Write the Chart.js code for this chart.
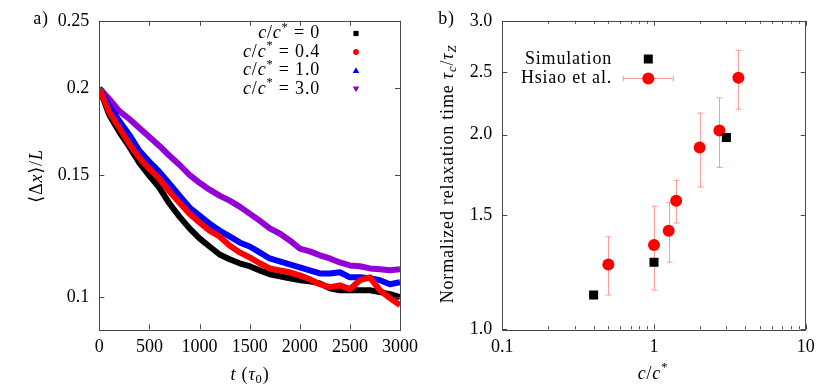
<!DOCTYPE html>
<html>
<head>
<meta charset="utf-8">
<script src="https://cdn.jsdelivr.net/npm/chart.js@4.4.1/dist/chart.umd.min.js"></script>
<style>
  html, body { margin: 0; padding: 0; background: #fff; }
  #wrap { position: relative; width: 830px; height: 388px; }
  #panel-a { position: absolute; left: 0; top: 0; }
  #panel-b { position: absolute; left: 425px; top: 0; }
</style>
</head>
<body>
<div id="wrap">
  <canvas id="panel-a" width="425" height="388"></canvas>
  <canvas id="panel-b" width="405" height="388"></canvas>
</div>
<script>
/* ---- panel a: end-to-end extension vs time ---- */
const timeSteps = [0, 100, 200, 300, 400, 500, 600, 700, 800, 900, 1000, 1100, 1200, 1300, 1400, 1500,
  1600, 1700, 1800, 1900, 2000, 2100, 2200, 2300, 2400, 2500, 2600, 2700, 2800, 2900, 3000];

const extC0 = [0.2, 0.1830, 0.1730, 0.1647, 0.1562, 0.1496, 0.1438, 0.1365, 0.1307, 0.1257, 0.1216,
  0.1184, 0.1153, 0.1135, 0.1120, 0.1109, 0.1094, 0.1080, 0.1073, 0.1066, 0.1059, 0.1055, 0.1048,
  0.1031, 0.1024, 0.1024, 0.1024, 0.1024, 0.1018, 0.1011, 0.1001];
const extC04 = [0.2, 0.1848, 0.1753, 0.1663, 0.1588, 0.1531, 0.1482, 0.1420, 0.1369, 0.1320, 0.1282,
  0.1248, 0.1224, 0.1188, 0.1161, 0.1142, 0.1120, 0.1101, 0.1094, 0.1087, 0.1076, 0.1062, 0.1045,
  0.1035, 0.1041, 0.1028, 0.1059, 0.1069, 0.1024, 0.0998, 0.0975];
const extC10 = [0.2, 0.1885, 0.1794, 0.1713, 0.1625, 0.1567, 0.1516, 0.1458, 0.1401, 0.1347, 0.1312,
  0.1277, 0.1248, 0.1224, 0.1200, 0.1184, 0.1161, 0.1138, 0.1127, 0.1116, 0.1105, 0.1094, 0.1083,
  0.1083, 0.1087, 0.1069, 0.1069, 0.1066, 0.1059, 0.1045, 0.1052];
const extC30 = [0.2, 0.1929, 0.1854, 0.1806, 0.1753, 0.1702, 0.1652, 0.1599, 0.1552, 0.1501, 0.1462,
  0.1429, 0.1401, 0.1378, 0.1351, 0.1320, 0.1290, 0.1257, 0.1236, 0.1208, 0.1176, 0.1165, 0.1150,
  0.1138, 0.1123, 0.1112, 0.1109, 0.1101, 0.1098, 0.1094, 0.1098];

const concLabels = ['0', '0.4', '1.0', '3.0'];
const leftYTicks = [0.1, 0.15, 0.2, 0.25];

/* ---- panel b: relaxation time vs concentration ---- */
const simConc = [0.4, 1.0, 3.0];
const simTau = [1.13, 1.27, 1.98];
const expConc = [0.5, 1.0, 1.25, 1.4, 2.0, 2.7, 3.6];
const expTau = [1.26, 1.35, 1.42, 1.58, 1.91, 2.03, 2.45];
const expLow = [1.13, 1.15, 1.27, 1.46, 1.66, 1.78, 2.19];
const expHigh = [1.39, 1.55, 1.57, 1.70, 2.16, 2.28, 2.70];

const rightYTicks = [1.0, 1.5, 2.0, 2.5, 3.0];
const rightXTicks = [0.1, 0.2, 0.3, 0.4, 0.5, 0.6, 0.7, 0.8, 0.9, 1, 2, 3, 4, 5, 6, 7, 8, 9, 10];
const rightXLabels = [0.1, 1, 10];

const SERIF = '"Liberation Serif", "DejaVu Serif", serif';
const FS = 18;
const SPACING = '0.8px';

// small helper for mixed italic / sub / sup text
function P(t, it, sh) { return { t, it: !!it, sh }; }

function fontFor(p, size) {
  const s = p.sh ? size * 0.7 : size;
  return (p.it ? 'italic ' : '') + s + 'px ' + SERIF;
}

function drawRich(ctx, parts, x, y, size, align) {
  ctx.save();
  ctx.textBaseline = 'middle';
  ctx.textAlign = 'left';
  ctx.fillStyle = '#000';
  ctx.letterSpacing = SPACING;
  let w = 0;
  parts.forEach(p => { ctx.font = fontFor(p, size); w += ctx.measureText(p.t).width; });
  let cx = align === 'right' ? x - w : align === 'center' ? x - w / 2 : x;
  parts.forEach(p => {
    ctx.font = fontFor(p, size);
    const dy = p.sh === 'sup' ? -size * 0.33 : p.sh === 'sub' ? size * 0.25 : 0;
    ctx.fillText(p.t, cx, y + dy);
    cx += ctx.measureText(p.t).width;
  });
  ctx.restore();
}

function drawRotated(ctx, parts, x, y, size) {
  ctx.save();
  ctx.translate(x, y);
  ctx.rotate(-Math.PI / 2);
  drawRich(ctx, parts, 0, 0, size, 'center');
  ctx.restore();
}

// gnuplot-like frame with inward ticks on all four sides
const framePlugin = {
  id: 'frame',
  afterDraw(chart) {
    const { ctx, chartArea: a, scales } = chart;
    ctx.save();
    ctx.strokeStyle = '#4a4a4a';
    ctx.lineWidth = 1;
    ctx.beginPath();
    scales.x.ticks.forEach(tk => {
      const px = Math.round(scales.x.getPixelForValue(tk.value)) + 0.5;
      const len = tk.label === '' ? 3 : 5;
      ctx.moveTo(px, a.bottom); ctx.lineTo(px, a.bottom - len);
      ctx.moveTo(px, a.top); ctx.lineTo(px, a.top + len);
    });
    scales.y.ticks.forEach(tk => {
      const py = Math.round(scales.y.getPixelForValue(tk.value)) + 0.5;
      const len = tk.label === '' ? 3 : 5;
      ctx.moveTo(a.left, py); ctx.lineTo(a.left + len, py);
      ctx.moveTo(a.right, py); ctx.lineTo(a.right - len, py);
    });
    ctx.stroke();
    ctx.strokeRect(Math.round(a.left) + 0.5, Math.round(a.top) + 0.5,
      Math.round(a.right - a.left), Math.round(a.bottom - a.top));
    ctx.restore();
  }
};

function axisText(size) {
  return { family: SERIF, size: size };
}

/* ---------------- panel a ---------------- */
const seriesA = [
  { data: extC0, color: '#000000', marker: 'square' },
  { data: extC04, color: '#ff0000', marker: 'circle' },
  { data: extC10, color: '#0000ff', marker: 'triangle' },
  { data: extC30, color: '#9400d3', marker: 'invtriangle' }
];
const drawOrder = [1, 0, 2, 3]; // red on top, violet underneath

function drawMarker(ctx, kind, x, y, color) {
  ctx.fillStyle = color;
  ctx.beginPath();
  if (kind === 'square') ctx.rect(x - 2.6, y - 2.6, 5.2, 5.2);
  else if (kind === 'circle') ctx.arc(x, y, 2.9, 0, Math.PI * 2);
  else if (kind === 'triangle') { ctx.moveTo(x, y - 3.3); ctx.lineTo(x - 3.3, y + 2.5); ctx.lineTo(x + 3.3, y + 2.5); }
  else { ctx.moveTo(x, y + 3.3); ctx.lineTo(x - 3.3, y - 2.5); ctx.lineTo(x + 3.3, y - 2.5); }
  ctx.closePath();
  ctx.fill();
}

const panelAText = {
  id: 'panelAText',
  afterDraw(chart) {
    const ctx = chart.ctx;
    drawRich(ctx, [P('a)')], 41, 19, FS, 'center');
    drawRotated(ctx, [P('\u27E8'), P('\u0394'), P('x', 1), P('\u27E9'), P('/'), P('L', 1)], 37, 176, FS);
    drawRich(ctx, [P('t', 1), P(' ('), P('\u03C4', 1), P('0', 0, 'sub'), P(')')], 250, 375, FS, 'center');
    const rows = [33.5, 52, 70.5, 89];
    seriesA.forEach((s, i) => {
      drawRich(ctx, [P('c', 1), P('/'), P('c', 1), P('*', 0, 'sup'), P(' = ' + concLabels[i])],
        320, rows[i], FS, 'right');
      drawMarker(ctx, s.marker, 356, rows[i], s.color);
    });
  }
};

new Chart(document.getElementById('panel-a'), {
  type: 'scatter',
  data: {
    datasets: seriesA.map((s, i) => ({
      label: 'c/c* = ' + concLabels[i],
      data: timeSteps.map((t, k) => ({ x: t, y: s.data[k] })),
      showLine: true,
      borderColor: s.color,
      backgroundColor: s.color,
      borderWidth: 6,
      borderJoinStyle: 'round',
      pointRadius: 0,
      order: drawOrder[i]
    }))
  },
  options: {
    responsive: false,
    animation: false,
    layout: { padding: { top: 19, right: 22.3, left: 0, bottom: 0 } },
    plugins: { legend: { display: false }, tooltip: { enabled: false } },
    scales: {
      x: {
        type: 'linear', min: 0, max: 3000,
        ticks: {
          stepSize: 500, callback: v => String(v),
          font: axisText(FS), color: '#000', padding: 7, maxRotation: 0, autoSkip: false
        },
        grid: { display: false, drawTicks: false },
        border: { display: false },
        afterFit: s => { s.height = 388 - 329.3; }
      },
      y: {
        type: 'logarithmic', min: 0.09, max: 0.25,
        afterBuildTicks: s => { s.ticks = leftYTicks.map(v => ({ value: v })); },
        ticks: { callback: v => String(v), font: axisText(FS), color: '#000', padding: 10 },
        grid: { display: false, drawTicks: false },
        border: { display: false },
        afterFit: s => { s.width = 99.3; }
      }
    }
  },
  plugins: [framePlugin, panelAText]
});

/* ---------------- panel b ---------------- */
const errColor = 'rgba(255, 60, 60, 0.5)';

function errBar(ctx, x, yLo, yHi) {
  ctx.moveTo(x, yLo); ctx.lineTo(x, yHi);
  ctx.moveTo(x - 3, yLo); ctx.lineTo(x + 3, yLo);
  ctx.moveTo(x - 3, yHi); ctx.lineTo(x + 3, yHi);
}

const errorBars = {
  id: 'errorBars',
  beforeDatasetsDraw(chart) {
    const { ctx, scales: { x, y } } = chart;
    ctx.save();
    ctx.strokeStyle = errColor;
    ctx.lineWidth = 1;
    ctx.beginPath();
    expConc.forEach((c, i) => {
      const px = Math.round(x.getPixelForValue(c)) + 0.5;
      errBar(ctx, px, y.getPixelForValue(expLow[i]), y.getPixelForValue(expHigh[i]));
    });
    ctx.stroke();
    ctx.restore();
  }
};

const panelBText = {
  id: 'panelBText',
  afterDraw(chart) {
    const ctx = chart.ctx;
    drawRich(ctx, [P('b)')], 21.5, 19, FS, 'center');
    drawRotated(ctx, [P('Normalized relaxation time '), P('\u03C4', 1), P('c', 1, 'sub'), P('/'),
      P('\u03C4', 1), P('Z', 1, 'sub')], 23, 174, FS);
    drawRich(ctx, [P('c', 1), P('/'), P('c', 1), P('*', 0, 'sup')], 228, 374, FS, 'center');

    // key
    drawRich(ctx, [P('Simulation')], 187, 59, FS, 'right');
    drawRich(ctx, [P('Hsiao et al.')], 187, 78, FS, 'right');
    ctx.save();
    ctx.fillStyle = '#000';
    ctx.fillRect(223.3 - 4.5, 59 - 4.5, 9, 9);
    ctx.strokeStyle = errColor;
    ctx.lineWidth = 1;
    ctx.beginPath();
    ctx.moveTo(198.3, 78.5); ctx.lineTo(248.3, 78.5);
    ctx.moveTo(198.3, 75.5); ctx.lineTo(198.3, 81.5);
    ctx.moveTo(248.3, 75.5); ctx.lineTo(248.3, 81.5);
    ctx.stroke();
    ctx.fillStyle = '#ff0000';
    ctx.beginPath();
    ctx.arc(223.3, 78.5, 6, 0, Math.PI * 2);
    ctx.fill();
    ctx.restore();
  }
};

new Chart(document.getElementById('panel-b'), {
  type: 'scatter',
  data: {
    datasets: [
      {
        label: 'Simulation',
        data: simConc.map((c, i) => ({ x: c, y: simTau[i] })),
        pointStyle: 'rect',
        pointRadius: 6.4,
        backgroundColor: '#000',
        borderColor: '#000',
        borderWidth: 0,
        order: 0
      },
      {
        label: 'Hsiao et al.',
        data: expConc.map((c, i) => ({ x: c, y: expTau[i] })),
        pointStyle: 'circle',
        pointRadius: 6,
        backgroundColor: '#ff0000',
        borderColor: '#ff0000',
        borderWidth: 0,
        order: 1
      }
    ]
  },
  options: {
    responsive: false,
    animation: false,
    layout: { padding: { top: 19, right: 24.3, left: 0, bottom: 0 } },
    plugins: { legend: { display: false }, tooltip: { enabled: false } },
    scales: {
      x: {
        type: 'logarithmic', min: 0.1, max: 10,
        afterBuildTicks: s => { s.ticks = rightXTicks.map(v => ({ value: v })); },
        ticks: {
          callback: v => rightXLabels.includes(v) ? String(v) : '',
          font: axisText(FS), color: '#000', padding: 7, maxRotation: 0, autoSkip: false
        },
        grid: { display: false, drawTicks: false },
        border: { display: false },
        afterFit: s => { s.height = 388 - 329.3; }
      },
      y: {
        type: 'logarithmic', min: 1, max: 3,
        afterBuildTicks: s => { s.ticks = rightYTicks.map(v => ({ value: v })); },
        ticks: { callback: v => v.toFixed(1), font: axisText(FS), color: '#000', padding: 10 },
        grid: { display: false, drawTicks: false },
        border: { display: false },
        afterFit: s => { s.width = 77.3; }
      }
    }
  },
  plugins: [framePlugin, errorBars, panelBText]
});
</script>
</body>
</html>
